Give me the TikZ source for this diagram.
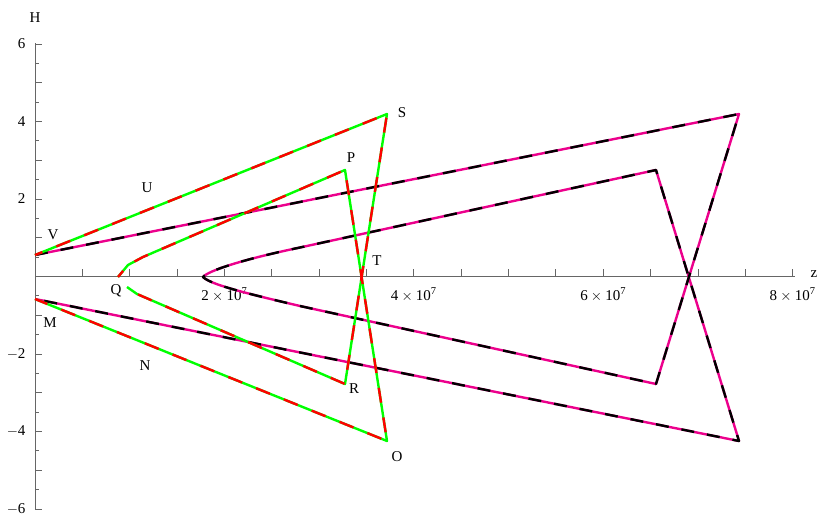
\documentclass[tikz,border=0pt]{standalone}
\usepackage{fontspec}
\setmainfont{Liberation Serif}
\begin{document}
\begin{tikzpicture}[x=1pt,y=-1pt,
  ax/.style={draw=gray!80!black,line width=0.8pt},
  tl/.style={font=\fontsize{15}{17}\selectfont},
  pl/.style={font=\fontsize{15}{17}\selectfont,fill=white,inner sep=1pt},
  gbase/.style={draw={rgb,1:red,0;green,1;blue,0},line width=2.4pt,line join=round},
  gdash/.style={draw=red,line width=2.4pt,dash pattern=on 15pt off 15pt,dash phase=7pt,line join=round},
  mbase/.style={draw=magenta,line width=2.4pt,line join=round},
  mdash/.style={draw=black,line width=2.4pt,dash pattern=on 13pt off 13pt,line join=round}]
\useasboundingbox (0,0) rectangle (830,527);
% axes
\draw[ax] (35,43.5) -- (35,509);
\draw[ax] (35,276.5) -- (795,276.5);
\foreach \k in {-12,...,12}{
  \pgfmathsetmacro\yy{276.5-\k*19.375}
  \ifodd\k \draw[ax] (35,\yy) -- (39,\yy); \else \draw[ax] (35,\yy) -- (42,\yy); \fi}
\foreach \k in {1,...,16}{
  \pgfmathsetmacro\xx{35+\k*47.35}
  \draw[ax] (\xx,276.5) -- (\xx,269);}
\foreach \v/\t in {6/6,4/4,2/2,-2/$-$2,-4/$-$4,-6/$-$6}
  \node[tl,anchor=east] (yl\v) at (29,276.5-\v*38.75) {\t};
\foreach \v in {2,4,6,8}
  \node[tl,anchor=north] (xl\v) at (35+\v*94.7,284) {$\mathrm{\v}\times\mathrm{10}^{\mathrm{7}}$};
\node[tl] (H) at (35,18) {H};
\node[tl] (Z) at (814,274) {z};
% magenta/black curve
\coordinate (a1) at (35,255); \coordinate (a2) at (739,114); \coordinate (a3) at (656,384);
\coordinate (a4) at (203,277); \coordinate (a5) at (656,170); \coordinate (a6) at (739,441);
\coordinate (a7) at (35,299);
\foreach \s in {mbase,mdash}
  \draw[\s] (a1) -- (a2) -- (a3) -- (300,306) .. controls (240,292) and (210,284) .. (a4)
    .. controls (208,271) and (240,260) .. (300,247.5) -- (a5) -- (a6) -- (a7);
% green/red curve
\coordinate (b1) at (35,255); \coordinate (S) at (387,114); \coordinate (R) at (345,384);
\coordinate (P) at (345,170); \coordinate (O) at (387,441); \coordinate (b7) at (35,299);
\foreach \s in {gbase,gdash}{
  \draw[\s] (b1) -- (S) -- (R) -- (137,294) -- (127,287);
  \draw[\s] (118,277) -- (128,265) -- (143,257) -- (P) -- (O) -- (b7);}
% point labels
\node[pl] (V) at (53,235) {V};
\node[pl] (U) at (147,188) {U};
\node[pl] (Sl) at (402,113) {S};
\node[pl] (Pl) at (351,158) {P};
\node[pl] (T) at (377,261) {T};
\node[pl] (Q) at (116,291) {Q};
\node[pl] (Rl) at (354,389) {R};
\node[pl] (Ol) at (397,457) {O};
\node[pl] (M) at (50,323) {M};
\node[pl] (N) at (145,366) {N};
\end{tikzpicture}
\end{document}
